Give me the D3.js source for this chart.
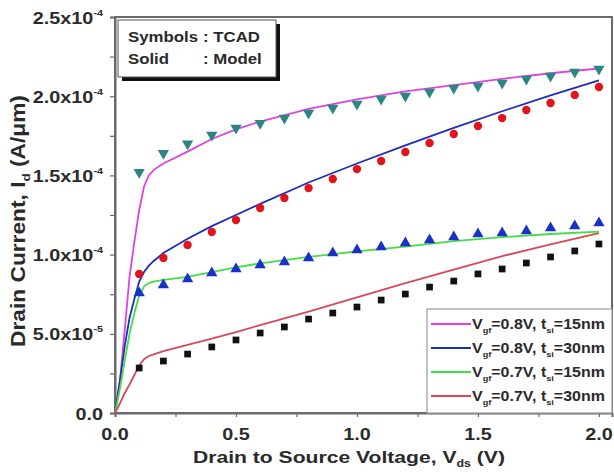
<!DOCTYPE html>
<html>
<head>
<meta charset="utf-8">
<script src="https://cdn.jsdelivr.net/npm/d3@7"></script>
<style>
  body { margin: 0; background: #fff; }
  text { font-family: "Liberation Sans", Arial, sans-serif; font-weight: bold; fill: #2a2a2a; }
</style>
</head>
<body>
<div id="chart"></div>
<script>
// TCAD symbols, Vds = 0.1 .. 2.0 V, Id in units of 1e-4 A/um
const vdsSym = [0.1,0.2,0.3,0.4,0.5,0.6,0.7,0.8,0.9,1.0,1.1,1.2,1.3,1.4,1.5,1.6,1.7,1.8,1.9,2.0];
const tcad08_15 = [1.52,1.64,1.70,1.755,1.80,1.83,1.862,1.894,1.926,1.951,1.982,2.001,2.027,2.052,2.064,2.083,2.109,2.128,2.153,2.172];
const tcad08_30 = [0.878,0.979,1.061,1.143,1.218,1.294,1.357,1.420,1.477,1.540,1.591,1.648,1.705,1.761,1.812,1.862,1.913,1.957,2.008,2.058];
const tcad07_15 = [0.758,0.808,0.846,0.884,0.909,0.934,0.953,0.979,1.010,1.029,1.048,1.073,1.092,1.111,1.130,1.136,1.149,1.168,1.181,1.199];
const tcad07_30 = [0.284,0.328,0.372,0.417,0.461,0.505,0.543,0.593,0.631,0.669,0.713,0.751,0.795,0.833,0.878,0.909,0.947,0.985,1.023,1.067];

// model curves
const vdsModel = [0,0.02,0.04,0.06,0.08,0.10,0.12,0.14,0.16,0.2,0.3,0.4,0.5,0.6,0.8,1.0,1.2,1.4,1.6,1.8,2.0];
const model08_15 = [0,0.20,0.52,0.86,1.08,1.28,1.43,1.50,1.535,1.575,1.65,1.73,1.79,1.84,1.92,1.98,2.03,2.07,2.11,2.145,2.175];
const model08_30 = [0,0.20,0.42,0.60,0.72,0.83,0.89,0.93,0.96,1.01,1.10,1.18,1.25,1.32,1.455,1.575,1.69,1.80,1.905,2.005,2.10];
const model07_15 = [0,0.15,0.33,0.50,0.63,0.74,0.80,0.82,0.83,0.84,0.86,0.89,0.92,0.945,0.985,1.02,1.05,1.085,1.11,1.13,1.145];
const model07_30 = [0,0.06,0.125,0.18,0.24,0.30,0.34,0.36,0.37,0.39,0.43,0.47,0.51,0.555,0.64,0.73,0.82,0.905,0.99,1.065,1.135];

const seriesNames = [["0.8V","15nm"],["0.8V","30nm"],["0.7V","15nm"],["0.7V","30nm"]];
const lineColors = ["#dd44dd","#1c2fb8","#44dd44","#d8485a"];

const xTicks = [0, 0.5, 1.0, 1.5, 2.0];
const xTickLabels = ["0.0","0.5","1.0","1.5","2.0"];
const yTicks = [0, 0.5e-4, 1.0e-4, 1.5e-4, 2.0e-4, 2.5e-4];
const yTickMant = ["0.0","5.0x10","1.0x10","1.5x10","2.0x10","2.5x10"];
const yTickExp = ["","-5","-4","-4","-4","-4"];

const width = 614, height = 473;
const margin = { top: 17, right: 2, bottom: 60, left: 115 };
const innerW = width - margin.left - margin.right;
const innerH = height - margin.top - margin.bottom;
const SX = 1.2; // les textes de l'original sont étirés en largeur

const svg = d3.select("#chart").append("svg")
  .attr("width", width).attr("height", height);
const g = svg.append("g").attr("transform", `translate(${margin.left},${margin.top})`);

// texte ancré en (x,y), étiré horizontalement
function label(parent, x, y, size, anchor, sx, rot = 0) {
  return parent.append("g").attr("transform", `translate(${x},${y}) rotate(${rot}) scale(${sx},1)`)
    .append("text").attr("text-anchor", anchor).style("font-size", size + "px");
}
// ajuste l'étirement pour obtenir une largeur donnée
function fitWidth(t, target) {
  const w = t.node().getComputedTextLength();
  const p = d3.select(t.node().parentNode);
  p.attr("transform", p.attr("transform").replace(/scale\([^)]*\)/, `scale(${target / w},1)`));
}

const x = d3.scaleLinear().domain([0, 2.054]).range([0, innerW]);
const y = d3.scaleLinear().domain([0, 2.5e-4]).range([innerH, 0]);

// frame
g.append("rect").attr("width", innerW).attr("height", innerH)
  .attr("fill", "none").attr("stroke", "#6a6a6a").attr("stroke-width", 2);

// axes
const xAxis = g.append("g").attr("transform", `translate(0,${innerH})`)
  .call(d3.axisBottom(x).tickValues(d3.range(0, 2.01, 0.25)).tickSize(4).tickFormat(""));
const yAxis = g.append("g")
  .call(d3.axisLeft(y).tickValues(d3.range(0, 2.51e-4, 0.25e-4)).tickSize(5).tickFormat(""));

[xAxis, yAxis].forEach(a => {
  a.select(".domain").attr("stroke", "#6a6a6a").attr("stroke-width", 2);
  a.selectAll(".tick line").attr("stroke", "#6a6a6a").attr("stroke-width", 1.2);
});

xTicks.forEach((t, i) => {
  label(g, x(t), innerH + 27, 16.5, "middle", SX).text(xTickLabels[i]);
});

// y tick labels with superscript
yTicks.forEach((t, i) => {
  const tx = label(g, -12, y(t) + 6.5, 16.5, "end", SX);
  tx.append("tspan").text(yTickMant[i]);
  if (yTickExp[i]) tx.append("tspan").attr("dy", -8).style("font-size", "9px").text(yTickExp[i]);
});

// axis titles
const xl = label(svg, 349, 463, 17, "middle", SX);
xl.append("tspan").text("Drain to Source Voltage, V");
xl.append("tspan").attr("dy", 4).style("font-size", "10px").text("ds");
xl.append("tspan").attr("dy", -4).text(" (V)");
fitWidth(xl, 312);

const yl = label(svg, 25, 221, 17, "middle", 1, -90);
yl.append("tspan").text("Drain Current, I");
yl.append("tspan").attr("dy", 4).style("font-size", "10px").text("d");
yl.append("tspan").attr("dy", -4).text(" (A/\u03bcm)");
fitWidth(yl, 252);
yl.node().parentNode.setAttribute("transform",
  yl.node().parentNode.getAttribute("transform") + " scale(1,1.15)");

// model lines
const line = d3.line().x(d => x(d[0])).y(d => y(d[1] * 1e-4));
[model08_15, model08_30, model07_15, model07_30].forEach((m, i) => {
  g.append("path").datum(vdsModel.map((v, j) => [v, m[j]]))
    .attr("d", line).attr("fill", "none").attr("stroke", lineColors[i]).attr("stroke-width", 1.8);
});

// TCAD symbols
const sym = [
  { data: tcad08_15, type: d3.symbolTriangle, rot: 180, color: "#2b8585", size: 55 },
  { data: tcad08_30, type: d3.symbolCircle, rot: 0, color: "#e0141a", size: 55 },
  { data: tcad07_15, type: d3.symbolTriangle, rot: 0, color: "#1a30c8", size: 55 },
  { data: tcad07_30, type: d3.symbolSquare, rot: 0, color: "#111111", size: 45 }
];
sym.forEach(s => {
  g.append("g").selectAll("path").data(vdsSym.map((v, j) => [v, s.data[j]])).enter()
    .append("path")
    .attr("d", d3.symbol().type(s.type).size(s.size))
    .attr("transform", d => `translate(${x(d[0])},${y(d[1] * 1e-4)}) rotate(${s.rot})`)
    .attr("fill", s.color);
});

// legend
const lg = g.append("g").attr("transform", `translate(${innerW - 185},${innerH - 104})`);
lg.append("rect").attr("width", 185).attr("height", 104).attr("fill", "#fff")
  .attr("stroke", "#9a9a9a").attr("stroke-width", 1.2);
seriesNames.forEach((s, i) => {
  const yy = 15 + i * 24;
  lg.append("line").attr("x1", 4).attr("x2", 44).attr("y1", yy).attr("y2", yy)
    .attr("stroke", lineColors[i]).attr("stroke-width", 1.8);
  const t = label(lg, 45, yy + 5, 14, "start", 1).attr("fill", "#3a3a3a");
  t.append("tspan").text("V");
  t.append("tspan").attr("dy", 4).style("font-size", "8px").text("gf");
  t.append("tspan").attr("dy", -4).text(`=${s[0]}, t`);
  t.append("tspan").attr("dy", 4).style("font-size", "8px").text("si");
  t.append("tspan").attr("dy", -4).text(`=${s[1]}`);
  fitWidth(t, 133);
});

// "Symbols / Solid" box with shadow
const bx = svg.append("g").attr("transform", "translate(118,20)");
bx.append("rect").attr("x", 4).attr("y", 4).attr("width", 158).attr("height", 57).attr("fill", "#111");
bx.append("rect").attr("width", 158).attr("height", 57).attr("fill", "#fff").attr("stroke", "#555").attr("stroke-width", 1);
label(bx, 10, 22, 14, "start", SX).text("Symbols");
label(bx, 85, 22, 14, "start", SX).text(": TCAD");
label(bx, 10, 44, 14, "start", SX).text("Solid");
label(bx, 85, 44, 14, "start", SX).text(": Model");
</script>
</body>
</html>
